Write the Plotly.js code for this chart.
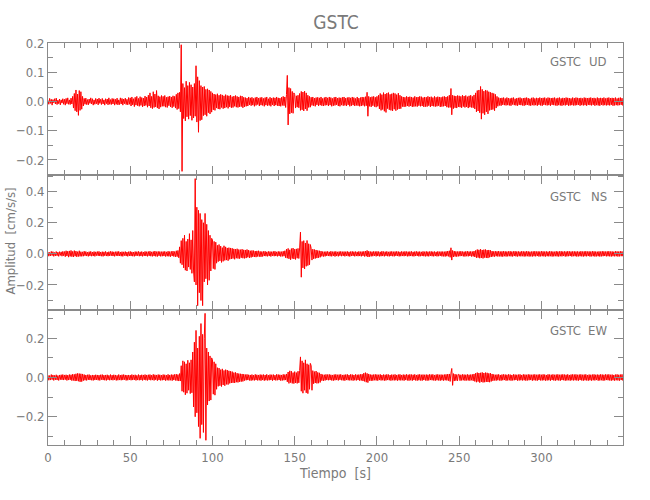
<!DOCTYPE html>
<html>
<head>
<meta charset="utf-8">
<script src="https://cdn.plot.ly/plotly-3.0.1.min.js"></script>
<style>html,body{margin:0;padding:0;background:#fff;}#chart{width:650px;height:500px;}</style>
</head>
<body>
<div id="chart"></div>
<script>
// Sampling of the traces (seconds)
const startTime = 0;
const sampleInterval = 0.5;
const station = 'GSTC';
const components = ['UD', 'NS', 'EW'];
const xTickStep = 50;
const xTitle = 'Tiempo\u00a0 [s]';
const yTitle = 'Amplitud\u00a0 [cm/s/s]';

// UD component [cm/s/s], one line = 10 s
const ud = [
.004,-.009,.011,-.006,.008,-.012,.007,-.004,.010,-.008,.012,-.010,.005,-.007,.009,-.011,.006,-.005,.010,-.009,
.008,-.012,.011,-.007,.013,-.009,.006,-.010,.012,-.008,.018,-.022,.028,-.031,.040,-.035,.026,-.047,.038,-.030,
.034,-.026,.018,-.015,.011,-.009,.012,-.010,.007,-.011,.009,-.006,.013,-.008,.010,-.012,.006,-.009,.011,-.007,
.009,-.011,.012,-.006,.008,-.010,.011,-.008,.006,-.012,.010,-.007,.009,-.011,.013,-.009,.007,-.010,.011,-.008,
.010,-.012,.008,-.009,.012,-.011,.006,-.010,.013,-.008,.011,-.012,.009,-.007,.012,-.010,.008,-.011,.014,-.009,
.013,-.015,.016,-.011,.010,-.017,.015,-.012,.018,-.014,.011,-.016,.017,-.013,.014,-.018,.012,-.015,.019,-.013,
.016,-.019,.022,-.015,.030,-.021,.018,-.024,.034,-.020,.026,-.018,.038,-.022,.020,-.025,.017,-.019,.021,-.016,
.018,-.016,.021,-.019,.015,-.020,.017,-.014,.019,-.018,.016,-.021,.020,-.017,.018,-.022,.025,-.027,.030,-.024,
.032,-.035,.195,-.239,.062,-.058,.048,-.066,.070,-.052,.055,-.060,.066,-.048,.058,-.064,.050,-.056,.062,-.050,
.123,-.070,.085,-.105,.072,-.065,.055,-.062,.050,-.048,.052,-.045,.042,-.050,.044,-.038,.040,-.042,.035,-.036,
.030,-.028,.026,-.030,.024,-.022,.027,-.025,.022,-.026,.025,-.020,.023,-.024,.020,-.022,.024,-.019,.021,-.023,
.020,-.018,.022,-.021,.017,-.020,.019,-.016,.021,-.019,.018,-.020,.016,-.018,.020,-.017,.019,-.021,.015,-.018,
.014,-.016,.012,-.015,.016,-.011,.013,-.014,.015,-.012,.011,-.016,.014,-.013,.016,-.010,.012,-.015,.014,-.012,
.015,-.013,.011,-.016,.014,-.012,.016,-.014,.010,-.013,.015,-.016,.012,-.011,.014,-.015,.013,-.012,.016,-.014,
.013,-.015,.012,-.016,.015,-.013,.018,-.014,.016,-.020,.025,.090,-.080,.048,-.042,.045,-.038,.035,-.040,.030,
.024,-.022,.020,-.019,.022,-.021,.028,-.030,.035,-.028,.033,-.032,.036,-.025,.030,-.031,.022,-.020,.018,-.019,
.015,-.013,.016,-.014,.012,-.016,.014,-.011,.015,-.015,.013,-.012,.016,-.014,.011,-.015,.014,-.013,.016,-.012,
.013,-.015,.016,-.012,.014,-.016,.011,-.014,.015,-.013,.016,-.011,.012,-.015,.014,-.016,.013,-.012,.015,-.014,
.016,-.013,.012,-.015,.014,-.011,.015,-.016,.013,-.014,.016,-.012,.014,-.015,.011,-.013,.016,-.014,.012,-.016,
.014,-.015,.016,-.013,.015,-.016,.017,-.014,.032,-.050,.018,-.016,.015,-.018,.017,-.014,.018,-.017,.015,-.019,
.018,-.016,.022,-.025,.028,-.030,.024,-.027,.031,-.033,.026,-.037,.029,-.024,.031,-.028,.025,-.030,.027,-.032,
.030,-.026,.028,-.031,.024,-.027,.029,-.025,.022,-.024,.018,-.017,.016,-.018,.015,-.017,.018,-.015,.016,-.017,
.017,-.015,.016,-.018,.014,-.017,.018,-.016,.015,-.017,.016,-.014,.018,-.016,.017,-.015,.014,-.018,.016,-.017,
.015,-.017,.018,-.014,.016,-.018,.017,-.015,.014,-.016,.018,-.017,.015,-.016,.017,-.014,.016,-.018,.015,-.017,
.017,-.016,.018,-.015,.016,-.019,.018,-.020,.022,-.020,.045,-.045,.022,-.024,.020,-.021,.019,-.022,.021,-.018,
.020,-.019,.018,-.021,.022,-.017,.019,-.020,.021,-.018,.017,-.022,.020,-.019,.022,-.020,.018,-.021,.023,-.025,
.030,-.035,.038,-.032,.040,-.038,.052,-.060,.042,-.040,.036,-.045,.040,-.035,.038,-.042,.034,-.030,.032,-.028,
.030,-.027,.028,-.031,.025,-.022,.018,-.016,.014,-.013,.012,-.014,.013,-.011,.014,-.012,.011,-.013,.014,-.012,
.012,-.013,.011,-.014,.013,-.010,.014,-.012,.010,-.013,.012,-.014,.013,-.011,.014,-.012,.011,-.013,.012,-.014,
.013,-.012,.014,-.011,.012,-.013,.010,-.014,.013,-.012,.014,-.013,.011,-.012,.013,-.014,.012,-.011,.014,-.013,
.012,-.014,.013,-.011,.014,-.012,.011,-.013,.014,-.012,.013,-.014,.012,-.011,.013,-.012,.014,-.013,.011,-.014,
.013,-.012,.014,-.013,.011,-.014,.013,-.012,.012,-.013,.014,-.011,.013,-.014,.012,-.013,.011,-.012,.014,-.013,
.012,-.013,.014,-.012,.013,-.011,.012,-.014,.013,-.012,.011,-.013,.014,-.012,.013,-.014,.012,-.011,.013,-.012,
.014,-.013,.012,-.011,.013,-.014,.011,-.012,.014,-.013,.012,-.014,.013,-.011,.012,-.013,.014,-.012,.011,-.013,
.013,-.012,.014,-.013,.012,-.011,.013,-.014,.012,-.013,.014,-.012,.011,-.013,.013,-.012,.014,-.011,.012,-.013,.010
];

// NS component [cm/s/s]
const ns = [
.012,-.015,.010,-.013,.016,-.011,.014,-.016,.009,-.013,.015,-.012,.011,-.016,.014,-.010,.013,-.015,.016,-.012,
.015,-.018,.020,-.014,.017,-.021,.019,-.016,.022,-.018,.016,-.020,.021,-.015,.018,-.019,.014,-.017,.020,-.016,
.014,-.016,.013,-.015,.017,-.012,.015,-.014,.011,-.016,.014,-.013,.016,-.015,.012,-.014,.015,-.016,.013,-.011,
.015,-.013,.016,-.014,.012,-.015,.014,-.016,.013,-.012,.016,-.014,.011,-.015,.014,-.013,.016,-.012,.015,-.014,
.013,-.016,.014,-.012,.015,-.014,.016,-.013,.012,-.015,.014,-.016,.013,-.011,.015,-.014,.012,-.016,.014,-.013,
.016,-.014,.013,-.015,.012,-.016,.015,-.013,.014,-.012,.016,-.015,.013,-.014,.015,-.016,.012,-.013,.016,-.014,
.014,-.016,.015,-.013,.017,-.015,.013,-.016,.015,-.014,.018,-.016,.014,-.017,.016,-.013,.015,-.016,.014,-.015,
.015,-.014,.016,-.017,.013,-.015,.017,-.016,.015,-.018,.016,-.014,.018,-.017,.015,-.019,.020,-.018,.022,-.025,
.045,-.060,.085,-.070,.100,-.090,.120,-.105,.080,-.110,.095,-.085,.130,-.100,.090,-.125,.150,-.110,-.180,.484,
-.200,.300,-.333,.280,-.250,.260,-.300,.220,-.333,.200,-.180,.260,-.160,.190,-.200,.150,-.170,.120,-.110,.100,
.090,-.095,.080,-.100,.075,-.060,.055,-.050,.060,-.045,.050,-.055,.040,-.048,.052,-.042,.045,-.040,.038,-.044,
.040,-.035,.038,-.033,.036,-.030,.032,-.035,.030,-.028,.033,-.030,.028,-.031,.027,-.025,.030,-.028,.026,-.029,
.025,-.027,.028,-.022,.024,-.026,.020,-.023,.022,-.019,.021,-.020,.018,-.021,.019,-.017,.020,-.018,.016,-.019,
.015,-.017,.016,-.014,.017,-.015,.013,-.016,.016,-.014,.015,-.017,.014,-.013,.016,-.015,.017,-.014,.013,-.016,
.016,-.014,.015,-.017,.014,-.016,.017,-.015,.020,-.025,.030,-.028,.035,-.032,.026,-.038,.034,-.030,.037,-.033,
.030,-.036,.032,-.028,.035,-.030,.038,.140,-.150,.080,-.090,.085,-.097,.070,-.080,.086,-.075,.065,-.070,.060,
.035,-.040,.030,-.032,.028,-.030,.025,-.027,.022,-.025,.020,-.022,.018,-.016,.015,-.017,.014,-.016,.015,-.013,
.016,-.014,.013,-.015,.017,-.016,.014,-.013,.015,-.017,.016,-.014,.013,-.016,.015,-.012,.016,-.015,.014,-.013,
.015,-.016,.014,-.013,.016,-.015,.013,-.017,.015,-.014,.016,-.013,.014,-.016,.015,-.014,.013,-.015,.016,-.014,
.014,-.016,.015,-.013,.016,-.017,.018,-.015,.022,-.020,.017,-.018,.015,-.016,.014,-.015,.016,-.013,.015,-.016,
.016,-.014,.015,-.016,.013,-.015,.017,-.014,.015,-.016,.014,-.013,.016,-.015,.013,-.016,.015,-.014,.016,-.015,
.014,-.016,.015,-.013,.016,-.014,.015,-.016,.013,-.015,.016,-.014,.014,-.015,.016,-.013,.015,-.016,.014,-.015,
.015,-.014,.016,-.015,.013,-.016,.015,-.014,.016,-.013,.014,-.016,.015,-.015,.013,-.014,.016,-.015,.014,-.016,
.016,-.015,.014,-.016,.015,-.013,.016,-.015,.014,-.016,.015,-.014,.013,-.016,.016,-.015,.014,-.013,.015,-.016,
.015,-.016,.014,-.017,.016,-.015,.018,-.016,.020,-.022,.039,-.040,.022,-.020,.018,-.017,.016,-.018,.015,-.016,
.016,-.015,.017,-.014,.015,-.016,.014,-.017,.016,-.015,.017,-.016,.015,-.014,.016,-.017,.015,-.016,.018,-.020,
.022,-.025,.028,-.024,.026,-.028,.030,-.026,.025,-.029,.027,-.024,.028,-.026,.024,-.027,.025,-.022,.023,-.020,
.018,-.017,.016,-.018,.017,-.015,.016,-.017,.018,-.016,.015,-.017,.016,-.018,.017,-.015,.016,-.017,.015,-.016,
.016,-.015,.017,-.016,.015,-.017,.016,-.014,.017,-.016,.015,-.017,.016,-.015,.014,-.016,.017,-.015,.016,-.017,
.015,-.016,.017,-.015,.016,-.017,.014,-.016,.015,-.017,.016,-.015,.017,-.016,.015,-.014,.016,-.017,.015,-.016,
.017,-.015,.016,-.016,.015,-.017,.016,-.015,.014,-.016,.017,-.015,.016,-.017,.015,-.016,.014,-.015,.017,-.016,
.015,-.017,.016,-.015,.017,-.016,.015,-.014,.016,-.017,.015,-.016,.017,-.015,.016,-.014,.015,-.017,.016,-.015,
.016,-.015,.015,-.017,.016,-.016,.014,-.015,.017,-.016,.015,-.017,.016,-.015,.017,-.016,.015,-.014,.016,-.017,
.015,-.016,.017,-.015,.016,-.017,.015,-.016,.014,-.015,.016,-.017,.015,-.016,.017,-.015,.016,-.014,.015,-.016,
.016,-.015,.017,-.016,.015,-.017,.016,-.015,.014,-.016,.017,-.015,.016,-.017,.015,-.016,.017,-.015,.016,-.015,.012
];

// EW component [cm/s/s]
const ew = [
.012,-.014,.010,-.013,.015,-.011,.013,-.015,.011,-.012,.014,-.013,.010,-.015,.013,-.011,.014,-.012,.015,-.013,
.013,-.011,.014,-.015,.012,-.013,.015,-.012,.014,-.016,.017,-.015,.016,-.018,.019,-.017,.021,-.019,.020,-.022,
.019,-.021,.018,-.016,.015,-.014,.013,-.015,.014,-.012,.015,-.013,.011,-.014,.013,-.015,.012,-.013,.014,-.012,
.013,-.014,.012,-.015,.014,-.011,.015,-.013,.012,-.014,.013,-.015,.014,-.012,.011,-.014,.015,-.013,.012,-.014,
.014,-.012,.013,-.015,.011,-.014,.015,-.013,.012,-.014,.014,-.013,.015,-.011,.013,-.015,.012,-.014,.013,-.012,
.012,-.014,.015,-.013,.013,-.012,.014,-.015,.011,-.013,.015,-.014,.012,-.013,.014,-.015,.013,-.012,.015,-.014,
.013,-.015,.014,-.012,.015,-.014,.012,-.013,.016,-.015,.014,-.012,.013,-.016,.015,-.013,.014,-.015,.012,-.014,
.015,-.013,.014,-.016,.012,-.014,.016,-.015,.013,-.014,.015,-.016,.014,-.013,.016,-.015,.017,-.016,.015,-.018,
.020,-.018,.060,-.070,.085,-.075,.080,-.088,.070,-.080,.088,-.065,.075,-.082,.090,-.078,.130,-.150,.180,-.200,
.240,-.180,.150,-.250,.210,-.310,.275,-.240,.220,-.280,.200,.327,-.320,.150,-.140,.130,-.120,.110,-.115,.100,
.090,-.085,.080,-.090,.070,-.060,.050,-.045,.048,-.042,.040,-.046,.044,-.038,.036,-.042,.040,-.035,.038,-.036,
.034,-.030,.032,-.028,.030,-.027,.025,-.028,.026,-.024,.022,-.025,.020,-.022,.019,-.021,.018,-.020,.017,-.016,
.015,-.014,.016,-.013,.014,-.015,.013,-.016,.015,-.014,.012,-.015,.016,-.013,.014,-.015,.013,-.014,.015,-.016,
.014,-.013,.015,-.016,.013,-.014,.016,-.015,.012,-.014,.015,-.013,.014,-.016,.015,-.013,.012,-.015,.016,-.014,
.015,-.013,.014,-.016,.013,-.015,.016,-.014,.015,-.013,.018,-.022,.028,-.030,.034,-.026,.032,-.030,.025,-.031,
.030,-.028,.025,-.030,.032,-.027,.035,.105,-.070,.085,-.080,.075,-.065,.090,-.078,.070,-.082,.065,-.060,.072,
.060,-.065,.035,-.032,.030,-.028,.033,-.030,.026,-.029,.024,-.025,.018,-.016,.015,-.017,.014,-.015,.016,-.013,
.015,-.014,.016,-.013,.014,-.015,.013,-.016,.015,-.014,.016,-.013,.014,-.015,.015,-.012,.016,-.014,.013,-.015,
.014,-.016,.015,-.013,.016,-.014,.013,-.015,.016,-.014,.015,-.016,.013,-.014,.016,-.015,.014,-.013,.015,-.016,
.016,-.015,.017,-.018,.022,-.020,.025,-.024,.021,-.026,.018,-.016,.015,-.017,.014,-.016,.015,-.014,.016,-.015,
.015,-.016,.014,-.013,.016,-.015,.013,-.014,.015,-.016,.014,-.015,.016,-.013,.015,-.014,.013,-.016,.015,-.014,
.014,-.015,.016,-.014,.013,-.016,.015,-.014,.016,-.015,.013,-.014,.015,-.016,.014,-.013,.016,-.015,.014,-.016,
.016,-.014,.015,-.016,.014,-.013,.016,-.015,.013,-.016,.015,-.014,.016,-.015,.014,-.016,.015,-.013,.014,-.015,
.015,-.016,.014,-.015,.016,-.013,.015,-.014,.016,-.015,.013,-.016,.015,-.014,.016,-.015,.014,-.016,.015,-.014,
.014,-.016,.015,-.014,.016,-.015,.017,-.016,.018,-.020,.022,.046,-.040,.020,-.018,.017,-.016,.015,-.017,.016,
.015,-.016,.014,-.015,.016,-.014,.015,-.016,.014,-.015,.016,-.015,.014,-.016,.015,-.014,.016,-.017,.018,-.020,
.022,-.024,.025,-.021,.023,-.026,.024,-.022,.026,-.025,.023,-.024,.025,-.022,.024,-.023,.021,-.024,.022,-.020,
.018,-.017,.016,-.015,.014,-.016,.015,-.014,.016,-.015,.013,-.016,.015,-.014,.016,-.013,.015,-.016,.014,-.015,
.016,-.014,.015,-.016,.013,-.015,.016,-.014,.015,-.013,.014,-.016,.015,-.015,.016,-.014,.013,-.015,.016,-.014,
.015,-.016,.014,-.015,.016,-.014,.015,-.013,.014,-.016,.015,-.014,.016,-.015,.014,-.016,.015,-.013,.016,-.015,
.014,-.015,.016,-.014,.015,-.016,.013,-.015,.016,-.014,.015,-.016,.014,-.013,.016,-.015,.014,-.016,.015,-.014,
.016,-.015,.014,-.016,.015,-.013,.016,-.014,.015,-.016,.014,-.015,.016,-.014,.013,-.016,.015,-.014,.016,-.015,
.015,-.014,.016,-.015,.014,-.016,.015,-.013,.016,-.015,.014,-.016,.015,-.014,.016,-.015,.013,-.016,.015,-.014,
.014,-.016,.015,-.014,.016,-.015,.014,-.013,.015,-.016,.014,-.015,.016,-.014,.015,-.016,.014,-.015,.016,-.013,
.015,-.014,.016,-.015,.014,-.016,.015,-.014,.013,-.016,.015,-.014,.016,-.015,.014,-.016,.015,-.013,.016,-.015,.012
];

const FONT = '"Liberation Sans Narrow", "DejaVu Sans Condensed", "Arial Narrow", sans-serif';
const AXC = '#8a8a8a';
const TXC = '#7a7a7a';

function trace(y, xa, ya) {
  return {
    type: 'scatter', mode: 'lines',
    x0: startTime, dx: sampleInterval, y: y,
    xaxis: xa, yaxis: ya,
    line: {color: '#ff0000', width: 1, simplify: false},
    hoverinfo: 'skip', showlegend: false
  };
}

const data = [
  trace(ud, 'x3', 'y3'),
  trace(ns, 'x2', 'y2'),
  trace(ew, 'x', 'y')
];

function xax(anchor, labels, extra) {
  return Object.assign({
    anchor: anchor, range: [0, 349.6], autorange: false,
    tick0: 0, dtick: xTickStep, ticks: 'inside', ticklen: 9, tickwidth: 1, tickcolor: AXC,
    minor: {dtick: 10, ticks: 'inside', ticklen: 5, tickcolor: AXC, tickwidth: 1, showgrid: false},
    showline: true, linecolor: AXC, linewidth: 1, mirror: 'ticks',
    showgrid: false, zeroline: false, showticklabels: labels,
    tickfont: {family: FONT, size: 13, color: TXC}
  }, extra || {});
}
function yax(anchor, domain, range, dtick, mdtick, extra) {
  return Object.assign({
    anchor: anchor, domain: domain, range: range, autorange: false,
    tick0: 0, dtick: dtick, tickformat: '.1f',
    ticks: 'inside', ticklen: 9, tickwidth: 1, tickcolor: AXC,
    minor: {dtick: mdtick, tick0: 0, ticks: 'inside', ticklen: 5, tickcolor: AXC, tickwidth: 1, showgrid: false},
    showline: true, linecolor: AXC, linewidth: 1, mirror: 'ticks',
    showgrid: false, zeroline: false,
    tickfont: {family: FONT, size: 13, color: TXC}
  }, extra || {});
}

const d1 = 0.3358, d2 = 0.6716;

function lab(txt, x, y) {
  return {text: txt, xref: 'paper', yref: 'paper', x: x, y: y, xanchor: 'right', yanchor: 'middle',
          showarrow: false, font: {family: FONT, size: 13, color: TXC}};
}

const layout = {
  width: 650, height: 500,
  margin: {l: 48, r: 27, t: 43, b: 55},
  paper_bgcolor: '#ffffff', plot_bgcolor: '#ffffff',
  showlegend: false,
  title: {text: station, font: {family: FONT, size: 19, color: TXC},
          x: 0.517, xanchor: 'center', y: 0.955, yanchor: 'middle'},
  xaxis: xax('y', true, {title: {text: xTitle, font: {family: FONT, size: 14, color: TXC}, standoff: 4}}),
  xaxis2: xax('y2', false, {matches: 'x'}),
  xaxis3: xax('y3', false, {matches: 'x'}),
  yaxis: yax('x', [0, d1], [-0.344, 0.344], 0.2, 0.1),
  yaxis2: yax('x2', [d1, d2], [-0.361, 0.507], 0.2, 0.1),
  yaxis3: yax('x3', [d2, 1], [-0.2515, 0.201], 0.1, 0.05),
  annotations: [
    lab(station, 0.931, 0.9545), lab(components[0], 0.9757, 0.9545),
    lab(station, 0.931, 0.6194), lab(components[1], 0.9757, 0.6194),
    lab(station, 0.931, 0.2836), lab(components[2], 0.9757, 0.2836),
    {text: yTitle, xref: 'paper', yref: 'paper', x: -0.0643, y: 0.506, xanchor: 'center', yanchor: 'middle',
     textangle: -90, showarrow: false, font: {family: FONT, size: 13, color: TXC}}
  ]
};

Plotly.newPlot('chart', data, layout, {staticPlot: true, displayModeBar: false});
</script>
</body>
</html>
